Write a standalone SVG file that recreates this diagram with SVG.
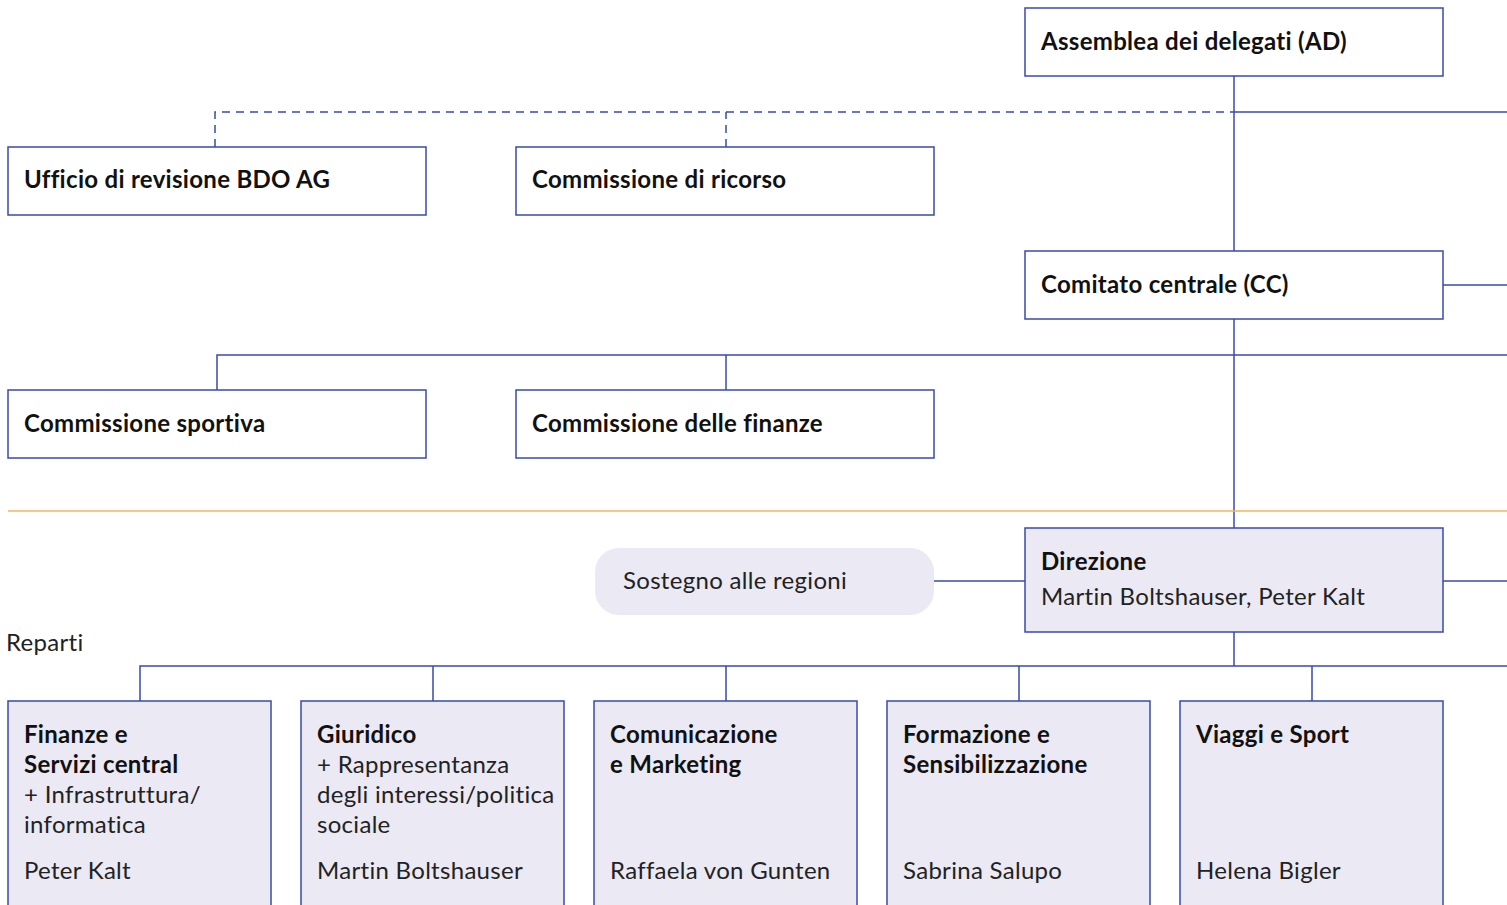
<svg xmlns="http://www.w3.org/2000/svg" width="1507" height="905" viewBox="0 0 1507 905">
<style>
.box{fill:#ffffff;stroke:#3a4aa8;stroke-width:1.5}
.fbox{fill:#ebe9f3;stroke:#3a4aa8;stroke-width:1.5}
.ln{fill:none;stroke:#3a4aa8;stroke-width:1.5}
.dash{fill:none;stroke:#3a4aa8;stroke-width:1.5;stroke-dasharray:8 6}
.b{font-family:Lato,"Open Sans","Liberation Sans",sans-serif;font-weight:700;font-size:24px;letter-spacing:0.3px;fill:#111}
.r{font-family:Lato,"Open Sans","Liberation Sans",sans-serif;font-weight:400;font-size:24px;letter-spacing:0.3px;fill:#222}
</style>
<rect width="1507" height="905" fill="#ffffff"/>
<g id="connectors">
<path class="dash" d="M215 147V112H1234"/>
<path class="dash" d="M726 147V112"/>
<path class="ln" d="M1234 112H1507"/>
<path class="ln" d="M1234 76V251"/>
<path class="ln" d="M1443 285H1507"/>
<path class="ln" d="M1234 319V528"/>
<path class="ln" d="M217 390V355H1507"/>
<path class="ln" d="M726 355V390"/>
<path class="ln" d="M934 581H1025"/>
<path class="ln" d="M1443 581H1507"/>
<path class="ln" d="M1234 632V666"/>
<path class="ln" d="M140 701V666H1507"/>
<path class="ln" d="M433 666V701M726 666V701M1019 666V701M1312 666V701"/>
<path d="M8 511H1507" fill="none" stroke="#f7b45a" stroke-width="1.5"/>
</g>
<g id="ad"><rect class="box" x="1025" y="8" width="418" height="68"/><text class="b" x="1041" y="50">Assemblea dei delegati (AD)</text></g>
<g id="revisione"><rect class="box" x="8" y="147" width="418" height="68"/><text class="b" x="24" y="188">Ufficio di revisione BDO AG</text></g>
<g id="ricorso"><rect class="box" x="516" y="147" width="418" height="68"/><text class="b" x="532" y="188">Commissione di ricorso</text></g>
<g id="cc"><rect class="box" x="1025" y="251" width="418" height="68"/><text class="b" x="1041" y="293">Comitato centrale (CC)</text></g>
<g id="sportiva"><rect class="box" x="8" y="390" width="418" height="68"/><text class="b" x="24" y="432">Commissione sportiva</text></g>
<g id="finanze"><rect class="box" x="516" y="390" width="418" height="68"/><text class="b" x="532" y="432">Commissione delle finanze</text></g>
<g id="sostegno"><rect x="595" y="548" width="339" height="67" rx="24" fill="#ebe9f3"/><text class="r" x="623" y="589">Sostegno alle regioni</text></g>
<g id="direzione"><rect class="fbox" x="1025" y="528" width="418" height="104"/><text class="b" x="1041" y="570">Direzione</text><text class="r" x="1041" y="605">Martin Boltshauser, Peter Kalt</text></g>
<g id="reparti-label"><text class="r" x="6" y="651">Reparti</text></g>
<g id="dep1"><rect class="fbox" x="8" y="701" width="263" height="220"/><text class="b" x="24" y="743">Finanze e</text><text class="b" x="24" y="773">Servizi central</text><text class="r" x="24" y="803">+ Infrastruttura/</text><text class="r" x="24" y="833">informatica</text><text class="r" x="24" y="879">Peter Kalt</text></g>
<g id="dep2"><rect class="fbox" x="301" y="701" width="263" height="220"/><text class="b" x="317" y="743">Giuridico</text><text class="r" x="317" y="773">+ Rappresentanza</text><text class="r" x="317" y="803">degli interessi/politica</text><text class="r" x="317" y="833">sociale</text><text class="r" x="317" y="879">Martin Boltshauser</text></g>
<g id="dep3"><rect class="fbox" x="594" y="701" width="263" height="220"/><text class="b" x="610" y="743">Comunicazione</text><text class="b" x="610" y="773">e Marketing</text><text class="r" x="610" y="879">Raffaela von Gunten</text></g>
<g id="dep4"><rect class="fbox" x="887" y="701" width="263" height="220"/><text class="b" x="903" y="743">Formazione e</text><text class="b" x="903" y="773">Sensibilizzazione</text><text class="r" x="903" y="879">Sabrina Salupo</text></g>
<g id="dep5"><rect class="fbox" x="1180" y="701" width="263" height="220"/><text class="b" x="1196" y="743">Viaggi e Sport</text><text class="r" x="1196" y="879">Helena Bigler</text></g>
</svg>
